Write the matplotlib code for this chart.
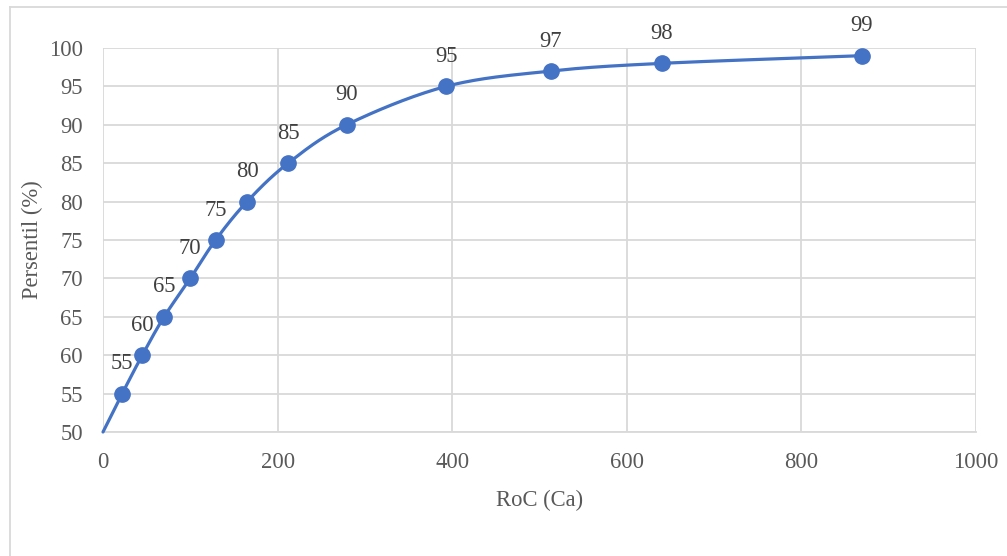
import numpy as np
import matplotlib
matplotlib.use("Agg")
import matplotlib.pyplot as plt
from matplotlib.lines import Line2D

# Data
roc = [0, 22, 45, 70, 100, 129, 165, 212, 279, 393, 513, 640, 869]
persentil = [50, 55, 60, 65, 70, 75, 80, 85, 90, 95, 97, 98, 99]
x_ticks = [0, 200, 400, 600, 800, 1000]
y_ticks = [50, 55, 60, 65, 70, 75, 80, 85, 90, 95, 100]

W, H = 1007, 556
fig = plt.figure(figsize=(W / 100, H / 100), dpi=100)
plt.rcParams['font.family'] = ['Liberation Serif', 'DejaVu Serif']

FS = 16.3
L, R, T, B = 103, 976, 48, 432
ax = fig.add_axes([L / W, 1 - B / H, (R - L) / W, (B - T) / H])
ax.set_xlim(0, 1000)
ax.set_ylim(50, 100)
ax.set_xticks(x_ticks)
ax.set_yticks(y_ticks)
grid_c = '#D9D9D9'
ax.grid(True, color=grid_c, linewidth=1.3)
ax.set_axisbelow(True)
for s in ['top', 'right', 'left']:
    ax.spines[s].set_visible(False)
ax.spines['bottom'].set_color(grid_c)
ax.spines['bottom'].set_linewidth(1.3)
ax.tick_params(length=0, labelsize=FS, labelcolor='#595959')
ax.tick_params(axis='x', pad=14.5)
ax.tick_params(axis='y', pad=14.5)

# Smooth curve (Catmull-Rom through data points, in display-normalized space)
xs = np.array(roc, float)
ys = np.array(persentil, float)
sx = (R - L) / 1000.0
sy = (B - T) / 50.0
P = np.column_stack([xs * sx, ys * sy])
Pe = np.vstack([P[0] - (P[1] - P[0]), P, P[-1] + (P[-1] - P[-2])])
curve = []
t = np.linspace(0, 1, 30)
for i in range(1, len(Pe) - 2):
    p0, p1, p2, p3 = Pe[i - 1], Pe[i], Pe[i + 1], Pe[i + 2]
    k = 1 / 6.0
    c1 = p1 + (p2 - p0) * k
    c2 = p2 - (p3 - p1) * k
    seg = ((1 - t)[:, None] ** 3 * p1 + 3 * ((1 - t) ** 2 * t)[:, None] * c1
           + 3 * ((1 - t) * t ** 2)[:, None] * c2 + (t ** 3)[:, None] * p2)
    curve.append(seg)
curve = np.vstack(curve)
line_c = '#4472C4'
ax.plot(curve[:, 0] / sx, curve[:, 1] / sy, color=line_c, linewidth=2.3,
        solid_capstyle='round', clip_on=False, zorder=3)
ax.plot(xs[1:], ys[1:], 'o', color=line_c, markersize=11, zorder=4, clip_on=False)

for xv, yv in zip(xs[1:], ys[1:]):
    ax.annotate(f'{int(yv)}', (xv, yv), xytext=(0, 21.5), textcoords='offset points',
                ha='center', va='center', fontsize=FS, color='#404040',
                annotation_clip=False)

ax.set_xlabel('RoC (Ca)', fontsize=FS, color='#595959', labelpad=12)
ax.set_ylabel('Persentil (%)', fontsize=FS, color='#595959', labelpad=4)

# Chart border
fig.add_artist(Line2D([10 / W, 1], [1 - 7 / H, 1 - 7 / H], color=grid_c, linewidth=1.3,
                      transform=fig.transFigure))
fig.add_artist(Line2D([10 / W, 10 / W], [0, 1 - 7 / H], color=grid_c, linewidth=1.3,
                      transform=fig.transFigure))

fig.savefig('out.png', dpi=100)
